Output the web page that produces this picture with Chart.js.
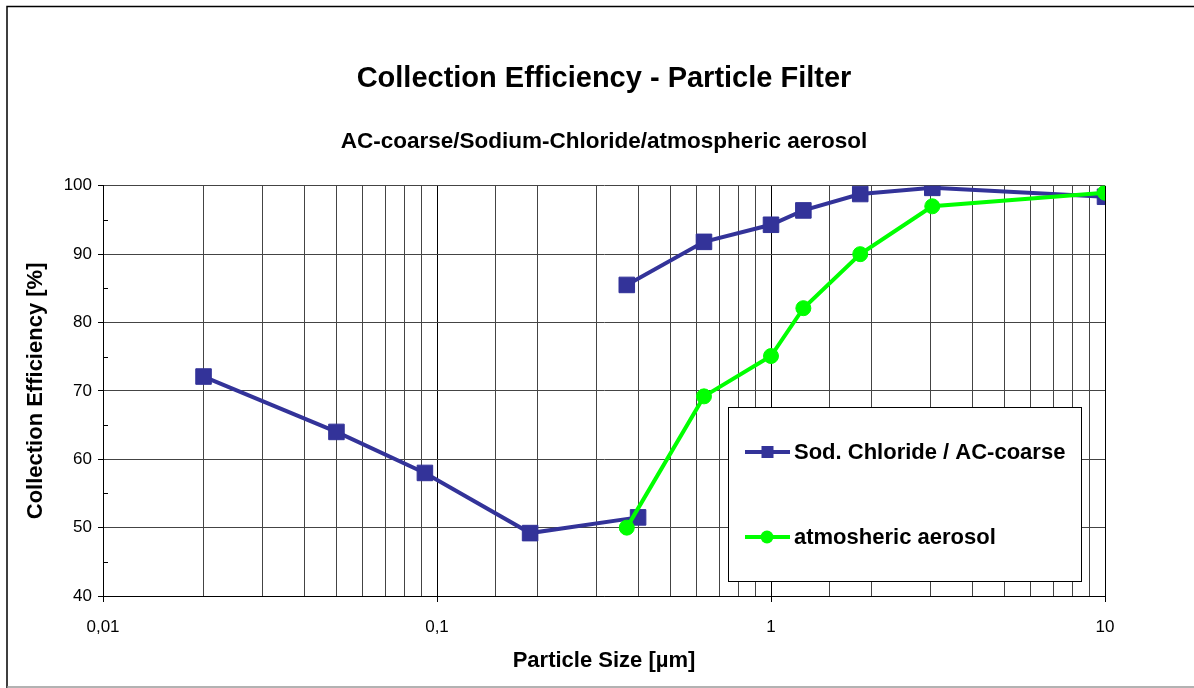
<!DOCTYPE html>
<html lang="en">
<head>
  <meta charset="UTF-8">
  <title>Collection Efficiency - Particle Filter</title>
  <script src="https://cdn.jsdelivr.net/npm/chart.js"></script>
  <style>
    html, body { margin: 0; padding: 0; background: #fff; }
    #wrap { width: 1194px; height: 688px; }
  </style>
</head>
<body>
  <div id="wrap"><canvas id="effChart" width="1194" height="688"></canvas></div>

  <script>
    // Sodium chloride / AC-coarse: two measurement runs, line broken after index 4
    const sodiumSize = [0.02, 0.05, 0.092, 0.19, 0.4, 0.37, 0.63, 1.0, 1.25, 1.85, 3.04, 10];
    const sodiumEff  = [72.1, 64.0, 58.0, 49.2, 51.5, 85.5, 91.8, 94.3, 96.4, 98.8, 99.7, 98.4];
    const sodiumBreak = 4;

    // atmospheric aerosol
    const aerosolSize = [0.37, 0.63, 1.0, 1.25, 1.85, 3.04, 10];
    const aerosolEff  = [50.0, 69.2, 75.1, 82.1, 90.0, 97.0, 99.0];

    const xDecades = [0.01, 0.1, 1, 10];
    const xTickLabels = ['0,01', '0,1', '1', '10'];

    const FONT = "'Liberation Sans', Arial, sans-serif";
    const BLUE = '#333399';
    const GREEN = '#00ff00';

    function decadeLabel(v) {
      const i = xDecades.findIndex(d => Math.abs(d - v) / d < 1e-6);
      return i >= 0 ? xTickLabels[i] : '';
    }

    // outer frame of the chart object
    const frame = {
      id: 'frame',
      afterDraw(chart) {
        const ctx = chart.ctx;
        ctx.save();
        ctx.strokeStyle = '#000';
        ctx.lineWidth = 1.5;
        ctx.beginPath();
        ctx.moveTo(7, 688); ctx.lineTo(7, 6.5); ctx.lineTo(1194, 6.5);
        ctx.stroke();
        ctx.strokeStyle = '#999';
        ctx.beginPath();
        ctx.moveTo(7, 687); ctx.lineTo(1194, 687);
        ctx.stroke();
        ctx.restore();
      }
    };

    // small minor tick marks inside the y axis
    const yMinor = {
      id: 'yMinor',
      afterDraw(chart) {
        const ctx = chart.ctx, y = chart.scales.y, left = chart.chartArea.left;
        ctx.save();
        ctx.strokeStyle = '#000';
        ctx.lineWidth = 1;
        for (let v = 45; v < 100; v += 10) {
          const py = Math.round(y.getPixelForValue(v)) + 0.5;
          ctx.beginPath(); ctx.moveTo(left, py); ctx.lineTo(left + 5, py); ctx.stroke();
        }
        ctx.restore();
      }
    };

    // legend box inside the plot, like the original
    const boxLegend = {
      id: 'boxLegend',
      afterDraw(chart) {
        const ctx = chart.ctx;
        ctx.save();
        ctx.fillStyle = '#fff';
        ctx.fillRect(728.5, 407.5, 353, 174);
        ctx.strokeStyle = '#000';
        ctx.lineWidth = 1;
        ctx.strokeRect(728.5, 407.5, 353, 174);
        const rows = [452, 537];
        chart.data.datasets.forEach((ds, i) => {
          const y = rows[i];
          ctx.strokeStyle = ds.borderColor;
          ctx.lineWidth = 4;
          ctx.beginPath(); ctx.moveTo(745, y); ctx.lineTo(790, y); ctx.stroke();
          ctx.fillStyle = ds.backgroundColor;
          if (ds.pointStyle === 'rect') {
            ctx.fillRect(761.5, y - 6, 12, 12);
          } else {
            ctx.beginPath(); ctx.arc(767, y, 6.5, 0, Math.PI * 2); ctx.fill();
          }
          ctx.fillStyle = '#000';
          ctx.font = 'bold 22px ' + FONT;
          ctx.textBaseline = 'middle';
          ctx.fillText(ds.label, 794, y + 1);
        });
        ctx.restore();
      }
    };

    new Chart(document.getElementById('effChart'), {
      type: 'scatter',
      data: {
        datasets: [
          {
            label: 'Sod. Chloride / AC-coarse',
            data: sodiumSize.map((x, i) => ({ x: x, y: sodiumEff[i] })),
            showLine: true,
            borderColor: BLUE,
            backgroundColor: BLUE,
            borderWidth: 4,
            pointStyle: 'rect',
            pointRadius: 11,
            pointBorderWidth: 1,
            order: 1,
            segment: {
              borderColor: c => c.p0DataIndex === sodiumBreak ? 'rgba(0,0,0,0)' : BLUE
            }
          },
          {
            label: 'atmosheric aerosol',
            data: aerosolSize.map((x, i) => ({ x: x, y: aerosolEff[i] })),
            showLine: true,
            borderColor: GREEN,
            backgroundColor: GREEN,
            borderWidth: 4,
            pointStyle: 'circle',
            pointRadius: 7.5,
            pointBorderWidth: 1,
            order: 0
          }
        ]
      },
      options: {
        responsive: false,
        animation: false,
        layout: { padding: { left: 0, right: 89, top: 0, bottom: 0 } },
        plugins: {
          legend: { display: false },
          tooltip: { enabled: false },
          title: {
            display: true,
            fullSize: false,
            text: 'Collection Efficiency - Particle Filter',
            color: '#000',
            font: { family: FONT, size: 29, weight: 'bold' },
            padding: { top: 62, bottom: 0 }
          },
          subtitle: {
            display: true,
            fullSize: false,
            text: 'AC-coarse/Sodium-Chloride/atmospheric aerosol',
            color: '#000',
            font: { family: FONT, size: 22.5, weight: 'bold' },
            padding: { top: 31, bottom: 31 }
          }
        },
        scales: {
          x: {
            type: 'logarithmic',
            min: 0.01,
            max: 10,
            afterFit: s => { s.height = 92; },
            border: { color: '#000', width: 1 },
            grid: {
              color: c => (c.tick && c.tick.major) ? '#000' : '#444',
              tickColor: c => (c.tick && c.tick.major) ? '#000' : 'rgba(0,0,0,0)',
              tickLength: 6
            },
            ticks: {
              autoSkip: false,
              maxRotation: 0,
              color: '#000',
              padding: 15,
              font: { family: FONT, size: 17 },
              callback: v => decadeLabel(v)
            },
            title: {
              display: true,
              text: 'Particle Size [µm]',
              color: '#000',
              font: { family: FONT, size: 22, weight: 'bold' },
              padding: { top: 0, bottom: 14 }
            }
          },
          y: {
            min: 40,
            max: 100,
            afterFit: s => { s.width = 103; },
            border: { color: '#000', width: 1 },
            grid: { color: '#444', tickColor: '#000', tickLength: 5 },
            ticks: {
              stepSize: 10,
              color: '#000',
              padding: 6,
              font: { family: FONT, size: 17 }
            },
            title: {
              display: true,
              text: 'Collection Efficiency [%]',
              color: '#000',
              font: { family: FONT, size: 22, weight: 'bold' },
              padding: { top: 23, bottom: 0 }
            }
          }
        }
      },
      plugins: [frame, yMinor, boxLegend]
    });
  </script>
</body>
</html>
